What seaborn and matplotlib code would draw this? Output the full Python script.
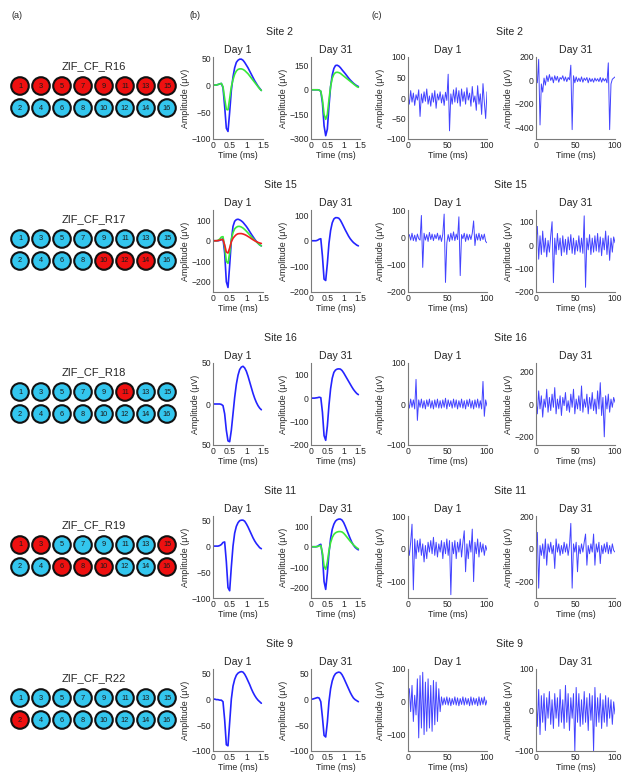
import numpy as np
import pandas as pd
import matplotlib
matplotlib.use("Agg")
import matplotlib.pyplot as plt
import seaborn as sns

sns.set_theme(style="white")
plt.rcParams['font.family'] = ['Liberation Sans', 'DejaVu Sans']

# ---------------- data ----------------
groups = ["ZIF_CF_R16", "ZIF_CF_R17", "ZIF_CF_R18", "ZIF_CF_R19", "ZIF_CF_R22"]
sites = ["Site 2", "Site 15", "Site 16", "Site 11", "Site 9"]
top_row_ids = [1, 3, 5, 7, 9, 11, 13, 15]
bottom_row_ids = [2, 4, 6, 8, 10, 12, 14, 16]
active_R16 = [1, 3, 5, 7, 9, 11, 13, 15]
active_R17 = [10, 12, 14]
active_R18 = [11]
active_R19 = [1, 3, 15, 6, 8, 10, 16]
active_R22 = [2]
active_sets = [active_R16, active_R17, active_R18, active_R19, active_R22]

# spike waveform time base (ms)
wave_t = [0.0, 0.05, 0.1, 0.15, 0.2, 0.25, 0.3, 0.35, 0.4, 0.45, 0.5, 0.55, 0.6, 0.65, 0.7,
          0.75, 0.8, 0.85, 0.9, 0.95, 1.0, 1.05, 1.1, 1.15, 1.2, 1.25, 1.3, 1.35, 1.4, 1.45]

s2_d1_blue = [0, 0, 0, 1, 2, 3, -5, -40, -80, -86, -50, -10, 15, 32, 42, 46, 48, 48, 46, 42,
              37, 32, 26, 20, 14, 8, 3, -2, -6, -10]
s2_d1_green = [0, 0, 0, 1, 2, 3, -3, -25, -45, -46, -25, -3, 10, 20, 26, 29, 30, 30, 29, 27,
               24, 21, 17, 13, 9, 5, 1, -3, -7, -10]
s2_d31_blue = [0, 0, 0, 0, 0, -2, -10, -80, -220, -280, -240, -100, 20, 90, 130, 148, 150, 145,
               135, 122, 110, 98, 85, 72, 60, 50, 40, 32, 25, 20]
s2_d31_green = [0, 0, 0, 0, 0, -2, -8, -60, -150, -180, -150, -60, 20, 70, 95, 105, 107, 105,
                100, 92, 84, 76, 68, 60, 52, 44, 36, 28, 20, 15]
s15_d1_blue = [0, 0, 0, 0, 2, 5, 10, -60, -200, -228, -120, 0, 70, 95, 103, 105, 102, 97, 90,
               80, 70, 58, 45, 32, 20, 8, -3, -12, -20, -25]
s15_d1_green = [0, 0, 0, 2, 8, 18, 20, -30, -100, -110, -60, 5, 40, 58, 66, 70, 70, 67, 62, 55,
                47, 38, 29, 20, 11, 3, -5, -12, -20, -25]
s15_d1_red = [0, 0, 0, 1, 3, 6, 5, -20, -55, -60, -35, -5, 12, 22, 30, 34, 35, 35, 33, 30, 26,
              21, 16, 10, 5, 0, -4, -8, -11, -13]
s15_d31_blue = [0, 0, 0, 0, 2, 6, 8, -60, -150, -155, -90, -10, 40, 70, 85, 90, 90, 88, 80, 68,
                55, 42, 30, 18, 8, 0, -7, -12, -17, -20]
s16_d1_blue = [0, 0, 0, 0, 0, -0.5, -2, -12, -32, -45, -46, -32, -12, 8, 24, 35, 42, 45, 46, 44,
               40, 34, 27, 20, 13, 7, 2, -2, -5, -7]
s16_d31_blue = [0, 0, 0, 1, 2, 4, 2, -60, -160, -180, -120, -30, 40, 85, 110, 120, 124, 125, 124,
                118, 108, 96, 84, 72, 60, 48, 37, 28, 20, 15]
s11_d1_blue = [0, 0, 0, 0, 1, 3, 7, 8, -30, -80, -86, -40, 0, 25, 38, 45, 49, 50, 50, 48, 43,
               37, 30, 23, 16, 10, 5, 1, -3, -5]
s11_d31_blue = [0, 0, 0, 0, 2, 8, 12, -40, -170, -208, -130, -30, 40, 85, 110, 125, 132, 135,
                135, 130, 118, 100, 80, 60, 40, 22, 8, -3, -10, -15]
s11_d31_green = [0, 0, 0, 0, 1, 4, 6, -30, -95, -110, -75, -20, 20, 45, 60, 68, 72, 74, 74, 72,
                 66, 57, 47, 37, 27, 18, 9, 2, -5, -10]
s9_d1_blue = [0, 0, -1, -1, -2, -2, -5, -40, -88, -90, -45, 0, 25, 38, 46, 50, 52, 53, 52, 48,
              42, 35, 28, 20, 13, 7, 2, -2, -5, -8]
s9_d31_blue = [0, 0, 1, 2, 3, 2, -5, -35, -70, -73, -45, -5, 20, 35, 44, 49, 51, 52, 51, 47, 41,
               34, 27, 20, 13, 7, 2, -1, -3, -5]

# raw trace values (uV), 60 samples over 0-100 ms
c1_d1 = [5, -15, 18, -10, 12, -18, 8, -5, 20, -45, 10, -12, 15, -8, 22, -15, 5, -20, 12, -10,
         18, -25, 10, -5, 15, -12, 8, -18, 14, -6, 58, -80, 10, -15, 20, -10, 25, -12, 18, -20,
         22, -8, 15, -15, 25, -5, 12, -20, 28, -10, 5, -30, 30, -15, 10, -40, 35, -10, -50, 15]
c1_d31 = [-10, -20, 180, -380, -30, -100, 20, -40, 40, -10, 50, 0, 30, -20, 40, 0, 35, -15, 25,
          10, 40, -5, 30, -10, 25, 5, 130, -420, 40, -20, 30, -10, 20, -10, 30, -15, 20, 0, 25,
          -20, 20, -10, 15, -15, 20, -5, 15, -10, 25, -15, 20, -5, 15, -20, 150, -420, -30, 10,
          20, 30]
c2_d1 = [0, 10, -10, 15, -12, 8, -15, 12, -5, -10, 80, -110, 15, -10, 10, -15, 18, -8, 12, -12,
         10, -5, 15, -10, 8, -15, 12, 85, -165, -20, 10, -15, 15, -10, 20, -12, 12, -8, 75, -140,
         10, -5, 15, -15, 12, -10, 10, -8, 15, 60, -30, 12, -10, 15, -12, 10, -8, 12, -15, -20]
c2_d31 = [20, 80, -60, 40, -40, 60, -30, 30, -50, 20, -30, 40, 100, -160, 30, -40, 50, -20, 30,
          -45, 40, -30, 25, -40, 35, -20, 45, -35, 30, -40, 20, -25, 40, -30, 30, -35, 125, -180,
          30, -20, 45, -40, 30, -30, 40, -25, 50, -30, 35, -45, 30, -20, 60, -40, 40, -65, 30,
          -30, 35, 10]
c3_d1 = [5, -10, 12, -8, 10, -12, 60, -40, 10, -8, 12, -10, 8, -12, 10, -6, 12, -10, 8, -12, 10,
         -8, 12, -10, 8, -10, 10, -8, 14, -12, 10, -6, 8, -10, 12, -8, 10, -12, 8, -8, 12, -10,
         8, -12, 10, -6, 12, -10, 8, -12, 10, -8, 12, -10, 8, -12, 55, -30, 10, -5]
c3_d31 = [20, -60, 80, -30, 50, -80, 30, -20, 90, -50, 40, -40, 60, -20, 100, -60, 30, -30, 50,
          -70, 40, -10, 70, -40, 20, -50, 60, -20, 90, -60, 30, -30, 50, -40, 110, -50, 30, -20,
          60, -60, 40, -30, 70, -40, 30, -60, 80, -30, 130, -70, 40, -200, 50, -30, 60, -50, 30,
          -20, 40, 10]
c4_d1 = [10, -20, 20, 75, -125, 30, -30, 25, -10, 30, -20, 15, -40, 10, -30, 20, -10, 25, -15,
         35, -20, 20, -25, 15, -10, 25, -30, 20, -15, 30, -20, 25, -140, 20, -15, 25, -30, 20,
         -10, 30, -25, 20, 55, -70, 15, -30, 25, -10, 60, -100, 20, -15, 30, -25, 20, -10, 15,
         -20, 10, -5]
c4_d31 = [10, 100, -240, 20, -40, 30, -60, 60, -100, 30, -20, 40, -30, 20, -120, 60, -20, 30,
          -40, 20, -30, 40, -20, 30, -40, 20, 155, -240, 30, -20, 40, -140, 20, -30, 30, -20, 40,
          90, -100, 20, -30, 30, -20, 90, -100, 30, -20, 40, -90, 20, -30, 30, -20, 40, -30, 20,
          -30, 30, -10, -20]
c5_d1 = [20, 40, -30, 50, -60, 20, -40, 70, -110, 80, -80, 90, -100, 60, -90, 70, -80, 50, -90,
         65, -70, 60, -60, 40, -30, 15, -10, 12, -8, 15, -10, 12, -12, 10, -8, 15, -10, 12, -12,
         10, -8, 15, -10, 12, -8, 10, -12, 15, -10, 12, -8, 10, -12, 15, -10, 12, -8, 15, -10, 5]
c5_d31 = [30, -40, 50, -60, 35, -30, 40, -50, 30, -20, 45, -35, 25, -45, 40, -20, 30, -40, 50,
          -30, 25, -45, 60, -30, 40, -50, 30, -20, 40, -100, 55, -30, 40, -40, 25, -35, 45, -30,
          30, -50, 40, -25, 35, -100, 55, -40, 30, -30, 40, -45, 25, -30, 35, -40, 30, -20, 25,
          -35, 20, -10]

# per-row axis settings
wave_sets = [
    [[("b", s2_d1_blue), ("g", s2_d1_green)], [("b", s2_d31_blue), ("g", s2_d31_green)]],
    [[("b", s15_d1_blue), ("g", s15_d1_green), ("r", s15_d1_red)], [("b", s15_d31_blue)]],
    [[("b", s16_d1_blue)], [("b", s16_d31_blue)]],
    [[("b", s11_d1_blue)], [("b", s11_d31_blue), ("g", s11_d31_green)]],
    [[("b", s9_d1_blue)], [("b", s9_d31_blue)]],
]
wave_ylims = [[(-100, 52), (-300, 200)], [(-250, 150), (-200, 120)], [(-50, 50), (-200, 150)],
              [(-100, 58), (-250, 150)], [(-100, 58), (-100, 58)]]
wave_yticks = [[[-100, -50, 0, 50], [-300, -150, 0, 150]], [[-200, -100, 0, 100], [-200, -100, 0, 100]],
               [[-50, 0, 50], [-200, -100, 0, 100]], [[-100, -50, 0, 50], [-200, -100, 0, 100]],
               [[-100, -50, 0, 50], [-100, -50, 0, 50]]]
trace_sets = [[c1_d1, c1_d31], [c2_d1, c2_d31], [c3_d1, c3_d31], [c4_d1, c4_d31], [c5_d1, c5_d31]]
trace_ylims = [[(-100, 100), (-500, 200)], [(-200, 100), (-200, 150)], [(-100, 100), (-250, 250)],
               [(-150, 100), (-300, 200)], [(-150, 100), (-100, 100)]]
trace_yticks = [[[-100, -50, 0, 50, 100], [-400, -200, 0, 200]], [[-200, -100, 0, 100], [-200, -100, 0, 100]],
                [[-100, 0, 100], [-200, 0, 200]], [[-100, 0, 100], [-200, 0, 200]],
                [[-100, 0, 100], [-100, 0, 100]]]
days = ["Day 1", "Day 31"]

# ---------------- layout ----------------
W, H = 624, 773
fig = plt.figure(figsize=(W / 100, H / 100), dpi=100)
TXT = "#262626"
SP = "#7a7a7a"
colors = {"b": "#2424ff", "g": "#3ae83a", "r": "#f02020"}


def add_ax(x0, y0, x1, y1):
    return fig.add_axes([x0 / W, 1 - y1 / H, (x1 - x0) / W, (y1 - y0) / H])


def style(ax):
    sns.despine(ax=ax)
    for s in ("left", "bottom"):
        ax.spines[s].set_color(SP)
        ax.spines[s].set_linewidth(0.8)
    ax.tick_params(direction="in", length=2, width=0.6, colors=SP, labelcolor=TXT,
                   labelsize=6.2, pad=1.5)
    ax.xaxis.label.set_color(TXT)
    ax.yaxis.label.set_color(TXT)


wave_x = [(213, 263), (311, 360)]
trace_x = [(408, 487), (536, 615)]
row_tops = [57, 210, 363, 516, 669]
AH = 82

fig.text(17 / W, 1 - 16 / H, "(a)", fontsize=6.5, color=TXT, ha="center", va="center")
fig.text(195 / W, 1 - 16 / H, "(b)", fontsize=6.5, color=TXT, ha="center", va="center")
fig.text(377 / W, 1 - 16 / H, "(c)", fontsize=6.5, color=TXT, ha="center", va="center")

t_trace = np.linspace(0, 100, len(c1_d1))

for r in range(5):
    top = row_tops[r]
    bot = top + AH
    # ---- panel (a): electrode map ----
    row1_y = top + 29
    axa = add_ax(9.5, row1_y - 33, 177.5, row1_y - 33 + 77)
    cols = list(range(8))
    df = pd.DataFrame({
        "col": cols + cols,
        "row": [0] * 8 + [1] * 8,
        "id": top_row_ids + bottom_row_ids,
    })
    df["active"] = df["id"].isin(active_sets[r])
    sns.scatterplot(data=df, x="col", y="row", hue="active",
                    palette={True: "#ee1010", False: "#33c6ee"}, s=160,
                    edgecolor="#111111", linewidth=1.5, legend=False, ax=axa, zorder=3)
    for _, rw in df.iterrows():
        axa.text(rw["col"], rw["row"], str(rw["id"]), ha="center", va="center",
                 fontsize=5.3, color="#1a1a1a", zorder=4)
    axa.text(3.5, -0.9, groups[r], ha="center", va="center", fontsize=8, color=TXT)
    axa.set_xlim(-0.5, 7.5)
    axa.set_ylim(2.0, -1.5)
    axa.axis("off")

    # ---- site titles ----
    fig.text(280 / W, 1 - (top - 25) / H, sites[r], fontsize=7.6, color=TXT, ha="center", va="center")
    fig.text(510 / W, 1 - (top - 25) / H, sites[r], fontsize=7.6, color=TXT, ha="center", va="center")

    # ---- panel (b): waveforms ----
    for d in range(2):
        ax = add_ax(wave_x[d][0], top, wave_x[d][1], bot)
        for c, vals in wave_sets[r][d]:
            sns.lineplot(x=wave_t, y=vals, color=colors[c], lw=1.2, ax=ax, sort=False)
        ax.set_xlim(0, 1.5)
        ax.set_ylim(*wave_ylims[r][d])
        ax.set_xticks([0, 0.5, 1, 1.5])
        ax.set_xticklabels(["0", "0.5", "1", "1.5"])
        ax.set_yticks(wave_yticks[r][d])
        if r == 2 and d == 0:
            ax.set_yticklabels(["50", "0", "50"])
        ax.set_xlabel("Time (ms)", fontsize=6.4, labelpad=1)
        ax.set_ylabel("Amplitude (\u03bcV)", fontsize=6.4, labelpad=1)
        ax.set_title(days[d], fontsize=7.6, color=TXT, pad=3)
        style(ax)

    # ---- panel (c): raw traces ----
    for d in range(2):
        ax = add_ax(trace_x[d][0], top, trace_x[d][1], bot)
        sns.lineplot(x=t_trace, y=trace_sets[r][d], color="#1414ff", lw=0.7, alpha=0.8,
                     ax=ax, sort=False)
        ax.set_xlim(0, 100)
        ax.set_ylim(*trace_ylims[r][d])
        ax.set_xticks([0, 50, 100])
        ax.set_yticks(trace_yticks[r][d])
        ax.set_xlabel("Time (ms)", fontsize=6.4, labelpad=1)
        ax.set_ylabel("Amplitude (\u03bcV)", fontsize=6.4, labelpad=1)
        ax.set_title(days[d], fontsize=7.6, color=TXT, pad=3)
        style(ax)

fig.savefig("out.png", dpi=100, facecolor="white")
